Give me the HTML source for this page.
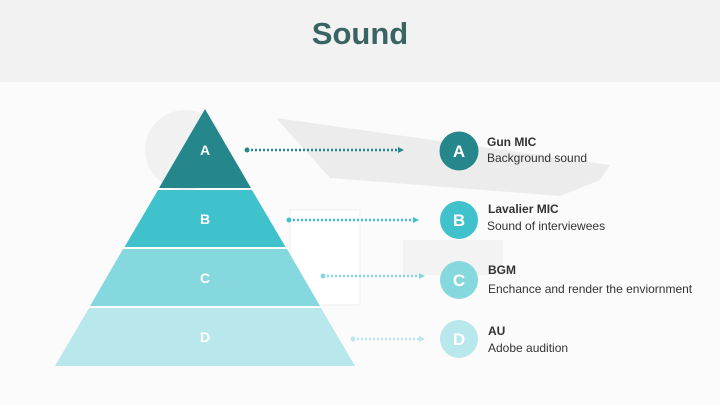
<!DOCTYPE html>
<html><head><meta charset="utf-8"><style>
body{margin:0;width:720px;height:405px;overflow:hidden;background:#fff;font-family:"Liberation Sans",sans-serif}
</style></head><body>
<svg width="720" height="405" xmlns="http://www.w3.org/2000/svg" style="position:absolute;left:0;top:0">
<rect x="0" y="0" width="720" height="82" fill="#f2f2f2"/>
<rect x="0" y="82" width="720" height="323" fill="#fbfbfb"/>
<circle cx="185" cy="150" r="40" fill="#f1f1f1"/>
<polygon points="276,118 610,165 600,180 560,196 330,178" fill="#ececec"/>
<rect x="290" y="210" width="70" height="95" fill="#fff" stroke="#efefef"/>
<rect x="403" y="240" width="100" height="35" fill="#f3f3f3"/>
<text x="360" y="44" text-anchor="middle" font-size="31" font-weight="bold" fill="#3a6463">Sound</text>
<polygon points="205,109 251,188 159,188" fill="#25868c"/>
<polygon points="158,190 252,190 285.5,247 124.5,247" fill="#40c2cc"/>
<polygon points="123,249 287,249 320,306 90,306" fill="#85d8de"/>
<polygon points="89,308 321,308 355,366 55,366" fill="#b8e8ec"/>
<g fill="#fff" font-size="14" font-weight="bold" text-anchor="middle">
<text x="205" y="155">A</text><text x="205" y="224">B</text><text x="205" y="283">C</text><text x="205" y="342">D</text>
</g>
<g stroke-width="2.5" stroke-dasharray="2,2" fill="none">
<line x1="247" y1="150" x2="398" y2="150" stroke="#25868c"/>
<line x1="289" y1="220" x2="413" y2="220" stroke="#40c2cc"/>
<line x1="323" y1="276" x2="419" y2="276" stroke="#85d8de"/>
<line x1="353" y1="339" x2="419" y2="339" stroke="#b8e8ec"/>
</g>
<circle cx="247" cy="150" r="2.5" fill="#25868c"/><polygon points="398,147 404,150 398,153" fill="#25868c"/>
<circle cx="289" cy="220" r="2.5" fill="#40c2cc"/><polygon points="413,217 419,220 413,223" fill="#40c2cc"/>
<circle cx="323" cy="276" r="2.5" fill="#85d8de"/><polygon points="419,273 425,276 419,279" fill="#85d8de"/>
<circle cx="353" cy="339" r="2.5" fill="#b8e8ec"/><polygon points="419,336 425,339 419,342" fill="#b8e8ec"/>
<circle cx="459" cy="151" r="19.5" fill="#25868c"/>
<circle cx="459" cy="220" r="19" fill="#40c2cc"/>
<circle cx="459" cy="280" r="19" fill="#85d8de"/>
<circle cx="459" cy="339" r="19" fill="#b8e8ec"/>
<g fill="#fff" font-size="17" font-weight="bold" text-anchor="middle">
<text x="459" y="157">A</text><text x="459" y="226">B</text><text x="459" y="286">C</text><text x="459" y="345">D</text>
</g>
<g fill="#333" font-size="12">
<text x="487" y="146" font-weight="bold">Gun MIC</text>
<text x="487" y="162">Background sound</text>
<text x="488" y="213" font-weight="bold">Lavalier MIC</text>
<text x="487" y="230">Sound of interviewees</text>
<text x="488" y="274" font-weight="bold">BGM</text>
<text x="488" y="293">Enchance and render the enviornment</text>
<text x="488" y="335" font-weight="bold">AU</text>
<text x="488" y="352">Adobe audition</text>
</g>
</svg>
</body></html>
